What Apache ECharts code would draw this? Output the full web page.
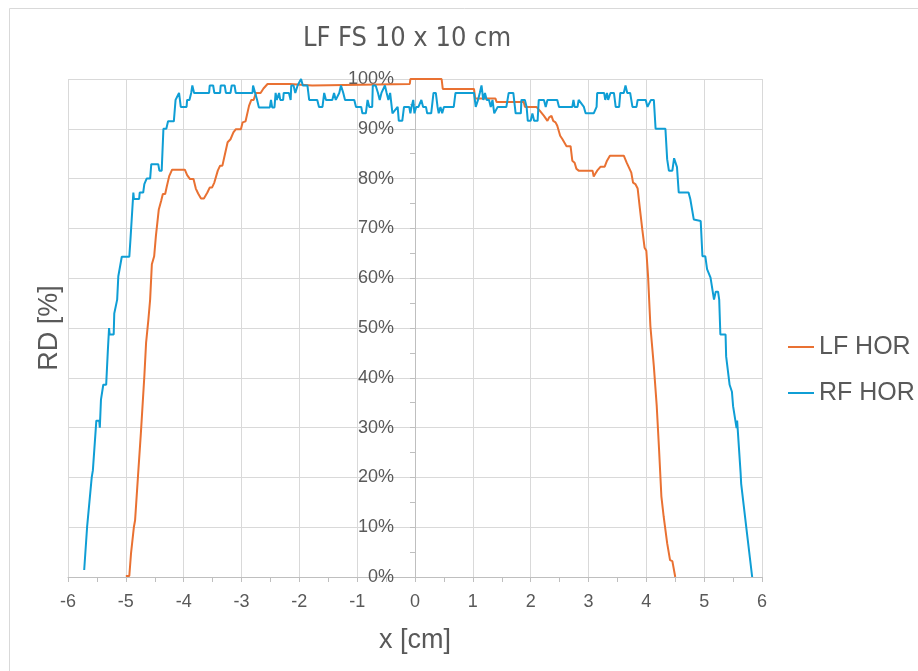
<!DOCTYPE html>
<html>
<head>
<meta charset="utf-8">
<script src="https://cdn.jsdelivr.net/npm/echarts@6/dist/echarts.min.js"></script>
<style>
html, body { margin: 0; padding: 0; background: #fff; }
#main { width: 918px; height: 671px; }
</style>
</head>
<body>
<div id="main"></div>
<script>
var seriesNames = ['LF HOR', 'RF HOR'];

// LF HOR profile, x [cm] and RD [%]
var lfX = [-5.00, -4.94, -4.91, -4.86, -4.84, -4.79, -4.74, -4.68, -4.65, -4.61, -4.58, -4.55, -4.51, -4.48, -4.43, -4.39, -4.36, -4.32, -4.29, -4.25, -4.20,
  -3.98, -3.94, -3.89, -3.83, -3.79, -3.75, -3.70, -3.65, -3.59, -3.55, -3.51, -3.47, -3.44, -3.41, -3.37, -3.33, -3.30, -3.27, -3.24, -3.19, -3.14, -3.10,
  -3.01, -2.98, -2.93, -2.87, -2.83, -2.79, -2.75, -2.67, -2.62, -2.55, -2.16, -2.13, -1.78, -1.75, -0.09, -0.08, 0.46, 0.48, 1.02, 1.04, 1.39, 1.41,
  1.88, 1.90, 2.10, 2.16, 2.23, 2.29, 2.32, 2.36, 2.39, 2.43, 2.46, 2.51, 2.55, 2.57, 2.62, 2.69, 2.72, 2.76, 2.79, 2.83, 3.07, 3.09, 3.12, 3.15, 3.21,
  3.28, 3.32, 3.37, 3.61, 3.66, 3.70, 3.74, 3.77, 3.81, 3.85, 3.89, 3.93, 3.97, 4.00, 4.03, 4.07, 4.13, 4.18, 4.22, 4.26, 4.30, 4.36, 4.41, 4.45, 4.50];
var lfY = [0.2, 0.2, 4.8, 10.1, 11.4, 20.2, 28.9, 40.3, 47, 51.7, 55.7, 62.8, 64.4, 68.5, 73.8, 75.5, 76.9, 76.9, 78.5, 80.5, 81.8,
  81.8, 80.7, 79.9, 79.9, 78, 77, 76, 76, 77.2, 78.2, 78.2, 79.2, 79.2, 81.6, 82.6, 82.6, 84.2, 84.2, 87.3, 87.9, 89.3, 89.9,
  89.9, 91.3, 91.5, 94.6, 95.8, 95.8, 97.2, 97.2, 98.1, 99, 99, 98.7, 98.7, 99, 99, 100, 100, 98, 98, 96.1, 96.1, 95.4,
  95.4, 94.4, 94.4, 93.6, 92.6, 91.6, 92.3, 92.6, 91.6, 91.3, 90.6, 88.6, 87.9, 87.6, 86.5, 86.5, 83.6, 83.2, 82, 81.6, 81.6, 80.4, 81, 81.6, 82.4,
  82.4, 83.6, 84.6, 84.6, 83.2, 82.2, 81.2, 79.2, 78.9, 78, 73.8, 69.8, 66.1, 65.5, 60.4, 50.4, 42.3, 34.3, 25.6, 16.2, 12.1, 6.8, 3.4, 3.2, 0];

// RF HOR profile, x [cm] and RD [%]
var rfX = [-5.72, -5.67, -5.64, -5.59, -5.57, -5.55, -5.51, -5.46, -5.45, -5.43, -5.39, -5.34, -5.31, -5.29, -5.28, -5.21, -5.20, -5.18, -5.15, -5.13,
  -5.07, -4.94, -4.92, -4.87, -4.86, -4.77, -4.76, -4.70, -4.68, -4.64, -4.58, -4.56, -4.44, -4.42, -4.38, -4.35, -4.30, -4.27, -4.17, -4.14, -4.08,
  -4.05, -3.95, -3.94, -3.90, -3.87, -3.85, -3.82, -3.56, -3.55, -3.49, -3.47, -3.37, -3.36, -3.29, -3.27, -3.19, -3.17, -3.12, -3.10, -2.81, -2.80,
  -2.77, -2.73, -2.70, -2.51, -2.49, -2.47, -2.43, -2.41, -2.39, -2.35, -2.33, -2.28, -2.27, -2.18, -2.15, -2.14, -2.10, -2.07, -2.03, -2.00, -1.97,
  -1.94, -1.86, -1.83, -1.69, -1.66, -1.60, -1.57, -1.54, -1.43, -1.40, -1.37, -1.31, -1.28, -1.24, -1.21, -1.05, -1.02, -0.93, -0.91, -0.85, -0.82,
  -0.79, -0.74, -0.73, -0.68, -0.64, -0.61, -0.58, -0.52, -0.49, -0.46, -0.43, -0.39, -0.30, -0.28, -0.22, -0.19, -0.10, -0.08, -0.06, -0.03, -0.01,
  0.02, 0.06, 0.11, 0.14, 0.19, 0.21, 0.28, 0.32, 0.36, 0.39, 0.41, 0.44, 0.47, 0.50, 0.67, 0.70, 1.02, 1.05, 1.09, 1.12, 1.15, 1.18, 1.21, 1.24,
  1.28, 1.31, 1.34, 1.37, 1.43, 1.58, 1.62, 1.70, 1.74, 1.83, 1.84, 1.90, 1.93, 1.95, 2.00, 2.03, 2.06, 2.12, 2.14, 2.23, 2.26, 2.29, 2.46, 2.49,
  2.72, 2.74, 2.76, 2.81, 2.83, 2.86, 2.92, 2.95, 3.09, 3.14, 3.15, 3.27, 3.29, 3.32, 3.34, 3.38, 3.44, 3.47, 3.53, 3.55, 3.61, 3.64, 3.67, 3.72,
  3.74, 3.76, 3.83, 3.85, 3.99, 4.02, 4.05, 4.08, 4.13, 4.16, 4.33, 4.36, 4.39, 4.45, 4.48, 4.51, 4.53, 4.56, 4.73, 4.76, 4.79, 4.82, 4.94, 4.97,
  5.02, 5.05, 5.11, 5.14, 5.17, 5.20, 5.24, 5.26, 5.28, 5.37, 5.38, 5.44, 5.47, 5.48, 5.50, 5.53, 5.56, 5.57, 5.59, 5.63, 5.64, 5.67, 5.74, 5.75, 5.83];
var rfY = [1.4, 10, 10, 20, 21.4, 21.4, 31.4, 31.4, 30, 35.6, 38.6, 38.6, 45.7, 50, 48.7, 48.7, 52.9, 52.9, 55.7, 60.4,
  64.3, 64.3, 67.8, 77.2, 75.9, 75.9, 77.2, 77.2, 78.9, 80, 80, 82.9, 82.9, 81.6, 81.6, 90, 90, 91.5, 91.5, 95.8, 97.2,
  94.4, 94.4, 95.8, 95.8, 97.2, 98.7, 97.2, 97.2, 98.7, 98.7, 97.2, 97.2, 98.7, 98.7, 97.2, 97.2, 98.7, 98.7, 97.2, 97.2, 98.7,
  98.7, 95.8, 94.3, 94.3, 95.8, 94.3, 94.3, 97.2, 95.8, 97.2, 95.8, 95.8, 97.2, 97.2, 95.8, 98.7, 98.7, 97.2, 98.7, 98.7, 100,
  98.7, 98.7, 95.8, 95.8, 94.4, 94.4, 97.2, 95.8, 95.8, 97.2, 95.8, 97.2, 98.7, 97.2, 95.8, 95.8, 94.4, 94.4, 93.1, 93.1, 95.8,
  94.4, 94.4, 98.7, 98.7, 97.2, 95.8, 97.2, 98.7, 97.2, 95.8, 97.2, 93.1, 94.4, 91.6, 91.6, 94.4, 94.4, 93.1, 94.4, 95.8, 93.1,
  94.4, 94.4, 95.8, 94.4, 94.4, 93.1, 93.1, 97.2, 97.2, 94.4, 93.1, 94.4, 93.1, 94.4, 94.4, 97.2, 97.2, 94.4, 95.8, 97.2, 98.7, 95.8, 97.2, 95.8,
  95.8, 94.4, 95.8, 93.1, 94.4, 94.4, 97.2, 97.2, 93.1, 93.1, 95.8, 95.8, 94.4, 91.6, 91.6, 93.1, 91.6, 91.6, 95.8, 95.8, 94.4, 95.8, 95.8, 94.4,
  94.4, 95.8, 94.4, 94.4, 95.8, 95.8, 94.4, 93.1, 93.1, 94.4, 97.2, 97.2, 95.8, 97.2, 95.8, 97.2, 97.2, 94.4, 94.4, 97.2, 97.2, 98.7, 97.2, 97.2,
  95.8, 94.4, 94.4, 95.8, 95.8, 94.4, 94.4, 95.8, 95.8, 90, 90, 83.9, 81.6, 81.6, 84.1, 84.1, 82.3, 77.2, 77.2, 75.9, 75.9, 71.8, 71.5, 64.4,
  64.4, 61.8, 60.1, 60.1, 55.7, 57.3, 57.3, 55.7, 48.7, 48.7, 44.3, 38.6, 38.6, 37.2, 34.3, 34.3, 29.9, 31.4, 31.4, 20.9, 18.7, 18.7, 8.8, 8.5, 0];

var xTicks = { min: -6, max: 6, interval: 1 };
var yTicks = { min: 0, max: 100, interval: 10 };

function pairs(xs, ys) {
  var out = [];
  for (var i = 0; i < xs.length; i++) out.push([xs[i], ys[i]]);
  return out;
}

var textColor = '#595959';
var fontMain = "'Liberation Sans', Arial, sans-serif";
var gridLeft = 68, gridRight = 156;
// distance from the grid's left edge to x = 0, so the y axis sits on zero
var zeroOffset = (918 - gridLeft - gridRight) * (0 - xTicks.min) / (xTicks.max - xTicks.min);

var chart = echarts.init(document.getElementById('main'), null, { renderer: 'canvas' });
var option = {
  animation: false,
  backgroundColor: '#ffffff',
  color: ['#E97132', '#0F9ED5'],
  title: {
    text: 'LF FS 10 x 10 cm',
    left: 402,
    top: 20,
    textAlign: 'center',
    textStyle: {
      fontFamily: "'Liberation Sans Narrow', 'DejaVu Sans Condensed', sans-serif",
      fontSize: 27,
      fontWeight: 'normal',
      color: textColor
    }
  },
  graphic: [{
    type: 'rect',
    shape: { x: 9.5, y: 8.5, width: 1000, height: 1000 },
    style: { fill: 'none', stroke: '#D9D9D9', lineWidth: 1 },
    silent: true
  }],
  legend: {
    data: seriesNames,
    orient: 'vertical',
    left: 783,
    top: 327,
    icon: 'rect',
    itemWidth: 26,
    itemHeight: 2,
    itemGap: 16,
    textStyle: {
      fontFamily: fontMain,
      fontSize: 25,
      lineHeight: 30,
      color: textColor
    }
  },
  grid: { left: gridLeft, right: gridRight, top: 79, bottom: 94, containLabel: false },
  xAxis: {
    type: 'value',
    min: xTicks.min,
    max: xTicks.max,
    interval: xTicks.interval,
    name: 'x [cm]',
    nameLocation: 'middle',
    nameGap: 50,
    nameTextStyle: { fontFamily: fontMain, fontSize: 27, color: textColor },
    axisLine: { show: true, onZero: false, lineStyle: { color: '#BFBFBF', width: 1 } },
    axisTick: { show: true, length: 5, lineStyle: { color: '#BFBFBF' } },
    minorTick: { show: true, splitNumber: 2, length: 5, lineStyle: { color: '#BFBFBF' } },
    axisLabel: { margin: 16, fontFamily: fontMain, fontSize: 18, color: textColor },
    splitLine: { show: true, lineStyle: { color: '#D9D9D9', width: 1 } }
  },
  yAxis: [{
    type: 'value',
    position: 'left',
    offset: -zeroOffset,
    min: yTicks.min,
    max: yTicks.max,
    interval: yTicks.interval,
    axisLine: { show: true, onZero: false, lineStyle: { color: '#BFBFBF', width: 1 } },
    axisTick: { show: true, length: 5, lineStyle: { color: '#BFBFBF' } },
    minorTick: { show: true, splitNumber: 2, length: 5, lineStyle: { color: '#BFBFBF' } },
    axisLabel: { margin: 21, fontFamily: fontMain, fontSize: 18, color: textColor, formatter: '{value}%' },
    splitLine: { show: true, lineStyle: { color: '#D9D9D9', width: 1 } }
  }, {
    type: 'value',
    position: 'left',
    min: yTicks.min,
    max: yTicks.max,
    name: 'RD [%]',
    nameLocation: 'middle',
    nameGap: 5,
    nameTextStyle: { fontFamily: fontMain, fontSize: 27, color: textColor },
    axisLine: { show: false, onZero: false },
    axisTick: { show: false },
    axisLabel: { show: false },
    splitLine: { show: false }
  }],
  series: [{
    name: seriesNames[0],
    type: 'line',
    symbol: 'none',
    data: pairs(lfX, lfY),
    lineStyle: { width: 2 },
    z: 3
  }, {
    name: seriesNames[1],
    type: 'line',
    symbol: 'none',
    data: pairs(rfX, rfY),
    lineStyle: { width: 2 },
    z: 4
  }]
};
chart.setOption(option);
</script>
</body>
</html>
